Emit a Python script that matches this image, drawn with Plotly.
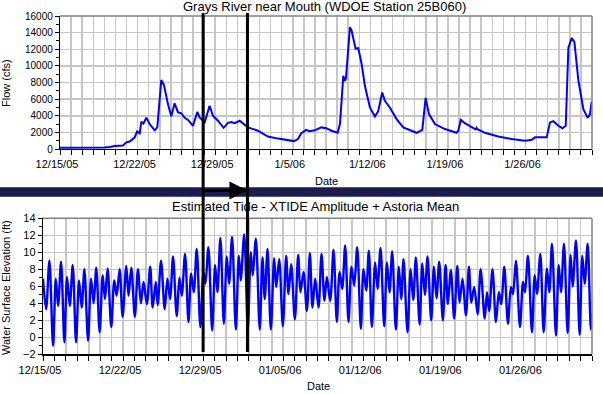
import numpy as np
import pandas as pd
import plotly.graph_objects as go

BASE = pd.Timestamp("2005-12-15")
N_DAYS = 48

# ---- Flow, Grays River near Mouth (days after 12/15/05, cfs) ----
FLOW_DAY = [0, 1, 2, 3, 4, 4.5, 4.93, 5.68, 5.98, 6.29, 6.74, 6.95, 7.19, 7.34, 7.52, 7.79,
            8.09, 8.54, 8.78, 9.14, 9.38, 9.74, 10.04, 10.34, 10.65, 10.95, 11.25, 11.55,
            12.0, 12.39, 12.6, 13.05, 13.5, 13.8, 14.25, 14.76, 15.16, 15.46, 15.76, 16.21,
            16.51, 16.96, 17.86, 18.76, 19.67, 20.57, 21.11, 21.47, 21.77, 22.22, 22.52,
            22.97, 23.58, 24.03, 24.5, 25.05, 25.26, 25.56, 25.7, 25.8, 26.16, 26.31,
            26.67, 26.91, 27.21, 27.51, 27.96, 28.41, 28.71, 29.07, 29.31, 29.76, 30.37,
            30.97, 31.72, 32.17, 32.69, 32.99, 33.29, 33.83, 34.73, 35.78, 35.93, 36.17,
            36.53, 37.14, 37.5, 37.59, 37.7, 38.34, 39.55, 40.75, 41.96, 42.56, 42.86,
            43.91, 44.21, 44.51, 44.97, 45.33, 45.63, 45.87, 46.17, 46.41, 46.77, 47.22,
            47.61, 47.82, 47.97]
FLOW_CFS = [150, 150, 140, 150, 180, 250, 360, 420, 800, 900, 1400, 2100, 1900, 3300, 3050, 3750,
            3000, 2250, 2600, 8300, 7700, 5400, 3950, 5500, 4400, 4300, 3750, 3500,
            2800, 4450, 3800, 3200, 5200, 4000, 3400, 2550, 3150, 3250, 3100, 3400,
            3100, 2600, 2200, 1500, 1250, 1100, 950, 1200, 1900, 2300, 2150,
            2250, 2600, 2500, 2200, 1950, 3000, 8800, 8200, 8500, 14650, 14250,
            12050, 12150, 10250, 7600, 5000, 3900, 4550, 6800, 5800, 5000, 3600,
            2600, 2150, 1950, 2300, 6150, 4200, 3000, 2400, 1950, 2200, 3500,
            3100, 2600, 2350, 2550, 2350, 1950, 1500, 1200, 1000, 1100, 1400,
            1400, 3200, 3350, 2800, 2500, 2800, 12200, 13350, 12900, 8250, 4800,
            3750, 4200, 5700]

# ---- Estimated tide (days after 12/15/05, ft) ----
TIDE_DAY = [0.0, 0.27, 0.56, 0.88, 1.12, 1.32, 1.58, 1.87, 2.10, 2.34, 2.60, 2.89, 3.15, 3.38,
            3.62, 3.94, 4.20, 4.43, 4.66, 4.95, 5.22, 5.42, 5.65, 5.97, 6.23, 6.44, 6.70, 6.96,
            7.28, 7.48, 7.72, 8.03, 8.30, 8.56, 8.79, 9.08, 9.37,
            9.59, 9.86, 10.03, 10.32, 10.64, 10.88, 11.11, 11.37, 11.69, 11.93, 12.13, 12.42,
            12.72, 12.95, 13.18, 13.44, 13.76, 14.03, 14.20, 14.46, 14.79, 15.05, 15.25, 15.51,
            15.81, 16.07, 16.27, 16.53, 16.86, 17.12, 17.29, 17.59, 17.91, 18.17, 18.34, 18.61,
            18.95,
            19.19, 19.39, 19.63, 19.92, 20.21, 20.39, 20.65, 20.97, 21.26, 21.46, 21.70, 22.02,
            22.31, 22.51, 22.78, 23.07, 23.33, 23.56, 23.80, 24.09, 24.35, 24.61, 24.82, 25.11,
            25.40, 25.69, 25.93, 26.16, 26.42, 26.71, 26.97, 27.21, 27.47, 27.79, 28.02, 28.26,
            28.49,
            28.75, 29.04, 29.25, 29.51, 29.83, 30.07, 30.30, 30.53, 30.85, 31.11, 31.32, 31.52,
            31.87, 32.14, 32.37, 32.60, 32.93, 33.16, 33.39, 33.62, 33.94, 34.18, 34.41, 34.64,
            34.96, 35.20, 35.40, 35.66, 35.95, 36.22, 36.42, 36.68, 36.98, 37.24, 37.44, 37.70,
            38.00, 38.26,
            38.62, 38.82, 39.01, 39.30, 39.60, 39.86, 40.07, 40.33, 40.65, 40.91, 41.09, 41.35,
            41.70, 41.97, 42.14, 42.40, 42.75, 42.99, 43.19, 43.48, 43.77, 44.06, 44.27, 44.50,
            44.85, 45.09, 45.29, 45.55, 45.87, 46.13, 46.31, 46.60, 46.92, 47.15, 47.36, 47.62,
            47.90, 48.0]
TIDE_FT = [6.9, 3.3, 9.0, -1.0, 6.9, 3.7, 8.9, -0.6, 7.1, 3.7, 8.5, -0.6, 6.7, 3.5,
           8.0, -0.4, 6.9, 4.0, 8.2, 0.6, 7.3, 4.5, 8.1, 1.2, 6.7, 4.9, 8.0, 2.4,
           8.4, 4.9, 8.2, 2.4, 8.0, 4.0, 6.5, 3.9, 8.3,
           3.5, 6.5, 3.8, 9.0, 3.3, 6.9, 4.5, 9.5, 2.5, 7.0, 4.9, 9.8,
           1.8, 7.5, 5.3, 10.4, 1.2, 7.7, 6.3, 10.6, 0.8, 8.5, 5.3, 11.7,
           1.6, 9.5, 6.3, 11.8, 0.9, 9.6, 6.7, 12.1, 1.0, 10.0, 7.3, 11.6,
           0.9,
           9.4, 4.5, 10.4, 0.9, 9.3, 5.9, 9.2, 1.3, 9.6, 5.1, 8.6, 2.1,
           9.7, 5.3, 7.7, 3.1, 9.9, 3.5, 6.9, 3.5, 9.8, 4.3, 7.1, 4.3,
           10.3, 1.8, 7.7, 5.7, 10.8, 1.8, 8.3, 6.1, 10.6, 1.0, 8.0, 5.5,
           10.2,
           1.2, 8.8, 5.7, 10.5, 1.3, 8.8, 5.3, 10.1, 0.9, 8.3, 4.5, 9.2,
           0.6, 8.0, 4.4, 9.4, 1.5, 8.7, 5.0, 9.5, 2.0, 8.3, 4.6, 8.9,
           2.0, 8.5, 3.9, 7.9, 2.2, 8.4, 4.1, 6.9, 2.6, 8.3, 4.1, 5.9,
           2.7, 8.0,
           2.2, 5.3, 3.1, 8.0, 1.8, 5.3, 3.9, 8.3, 1.6, 5.9, 5.1, 9.0,
           1.2, 6.5, 5.3, 9.6, 0.6, 7.3, 5.1, 9.8, 0.6, 8.1, 5.3, 11.0,
           0.2, 8.5, 5.3, 11.0, 0.5, 9.7, 6.0, 11.4, 0.3, 9.6, 6.3, 11.0,
           0.9, 2.8]

# ---- Tick labels (weekly) ----
TICK_DAYS = [0, 7, 14, 21, 28, 35, 42]
TOP_TICK_LABELS = ["12/15/05", "12/22/05", "12/29/05", "1/5/06", "1/12/06", "1/19/06", "1/26/06"]
BOTTOM_TICK_LABELS = ["12/15/05", "12/22/05", "12/29/05", "01/05/06", "01/12/06", "01/19/06", "01/26/06"]

# analysis window markers
MARKER_DATES = ["2005-12-29 00:00", "2006-01-01 21:00"]


def to_dates(days):
    return BASE + pd.to_timedelta(np.asarray(days, dtype=float), unit="D")


W, H = 603, 394
FONT = "Arial, Liberation Sans, sans-serif"
GRID = "#c6c6c6"
BLUE = "#0000ff"
NAVY = "#1c1c50"

fig = go.Figure()
fig.add_trace(go.Scatter(x=to_dates(FLOW_DAY), y=FLOW_CFS, mode="lines",
                         line=dict(color=BLUE, width=2), xaxis="x", yaxis="y",
                         showlegend=False, hoverinfo="skip"))
fig.add_trace(go.Scatter(x=to_dates(TIDE_DAY), y=TIDE_FT, mode="lines",
                         line=dict(color=BLUE, width=2.4, shape="spline", smoothing=0.9),
                         xaxis="x2", yaxis="y2", showlegend=False, hoverinfo="skip"))

x_range = [BASE, BASE + pd.Timedelta(days=N_DAYS)]
tickvals = to_dates(TICK_DAYS)


def xaxis_cfg(domain, anchor, labels):
    return dict(domain=domain, anchor=anchor, range=x_range, type="date", automargin=False,
                tickmode="array", tickvals=tickvals, ticktext=labels,
                ticks="outside", ticklen=5, tickcolor="black",
                tickfont=dict(family=FONT, size=11, color="black"),
                showgrid=True, gridcolor=GRID, gridwidth=1.5,
                minor=dict(dtick=86400000, tick0=BASE, ticks="outside", ticklen=5,
                           tickcolor="black", showgrid=True, gridcolor=GRID, gridwidth=1.5),
                showline=True, linecolor="black", linewidth=1.2, zeroline=False,
                ticklabelshift=-3)


def yaxis_cfg(domain, anchor, rng, dtick, size):
    return dict(domain=domain, anchor=anchor, range=rng, tick0=0, dtick=dtick, automargin=False,
                tickformat="d", ticks="outside", ticklen=4, tickcolor="black",
                tickfont=dict(family=FONT, size=size, color="black"),
                showgrid=True, gridcolor=GRID, gridwidth=1.5,
                minor=dict(dtick=dtick / 2, ticks="outside", ticklen=3, tickcolor="black",
                           showgrid=False),
                showline=True, linecolor="black", linewidth=1.2, zeroline=False)


fig.update_layout(
    width=W, height=H, margin=dict(l=0, r=0, t=0, b=0, autoexpand=False),
    paper_bgcolor="white", plot_bgcolor="white",
    font=dict(family=FONT, color="black"),
    xaxis=xaxis_cfg([60 / W, 592 / W], "y", TOP_TICK_LABELS),
    yaxis=yaxis_cfg([1 - 149 / H, 1 - 16 / H], "x", [0, 16000], 2000, 10),
    xaxis2=xaxis_cfg([43 / W, 592 / W], "y2", BOTTOM_TICK_LABELS),
    yaxis2=yaxis_cfg([1 - 354.3 / H, 1 - 218.3 / H], "x2", [-2, 14], 2, 11),
)

shapes = []
# gray top / right frame on each panel
for xr, yr in (("x domain", "y domain"), ("x2 domain", "y2 domain")):
    shapes.append(dict(type="line", xref=xr, yref=yr, x0=0, x1=1, y0=1, y1=1,
                       line=dict(color="#808080", width=1.5)))
    shapes.append(dict(type="line", xref=xr, yref=yr, x0=1, x1=1, y0=0, y1=1,
                       line=dict(color="#808080", width=1.5)))
# navy separator band
shapes.append(dict(type="rect", xref="paper", yref="paper", x0=0, x1=1,
                   y0=1 - 196.7 / H, y1=1 - 187.3 / H, fillcolor=NAVY, line=dict(width=0),
                   layer="above"))
# vertical window markers
for d in MARKER_DATES:
    shapes.append(dict(type="line", xref="x2", yref="paper", x0=d, x1=d,
                       y0=1 - 352 / H, y1=1 - 13 / H, line=dict(color="black", width=3),
                       layer="above"))
fig.update_layout(shapes=shapes)

ann = []
ann.append(dict(text="Grays River near Mouth (WDOE Station 25B060)", xref="paper", yref="paper",
                x=324 / W, y=1 - 6 / H, xanchor="center", yanchor="middle", showarrow=False,
                font=dict(family=FONT, size=13, color="black")))
ann.append(dict(text="Estimated Tide - XTIDE Amplitude + Astoria Mean", xref="paper", yref="paper",
                x=315 / W, y=1 - 206.5 / H, xanchor="center", yanchor="middle", showarrow=False,
                font=dict(family=FONT, size=13, color="black")))
ann.append(dict(text="Date", xref="paper", yref="paper", x=326 / W, y=1 - 180.5 / H,
                xanchor="center", yanchor="middle", showarrow=False,
                font=dict(family=FONT, size=11, color="black")))
ann.append(dict(text="Date", xref="paper", yref="paper", x=318 / W, y=1 - 386 / H,
                xanchor="center", yanchor="middle", showarrow=False,
                font=dict(family=FONT, size=11, color="black")))
ann.append(dict(text="Flow (cfs)", xref="paper", yref="paper", x=6 / W, y=1 - 83 / H,
                xanchor="center", yanchor="middle", textangle=-90, showarrow=False,
                font=dict(family=FONT, size=11, color="black")))
ann.append(dict(text="Water Surface Elevation (ft)", xref="paper", yref="paper", x=6 / W,
                y=1 - 288 / H, xanchor="center", yanchor="middle", textangle=-90,
                showarrow=False, font=dict(family=FONT, size=11, color="black")))
# arrow between the markers
ann.append(dict(text="", xref="x2", yref="paper", x=MARKER_DATES[1], y=1 - 190.5 / H,
                axref="x2", ax=MARKER_DATES[0], ayref="pixel", ay=0,
                showarrow=True, arrowhead=2, arrowsize=1.2, arrowwidth=3,
                arrowcolor="black", standoff=0, startstandoff=0))
fig.update_layout(annotations=ann)

fig.write_html("out.html", config={"displayModeBar": False, "staticPlot": True},
               post_script="document.body.style.margin='0px';document.body.style.overflow='hidden';")
